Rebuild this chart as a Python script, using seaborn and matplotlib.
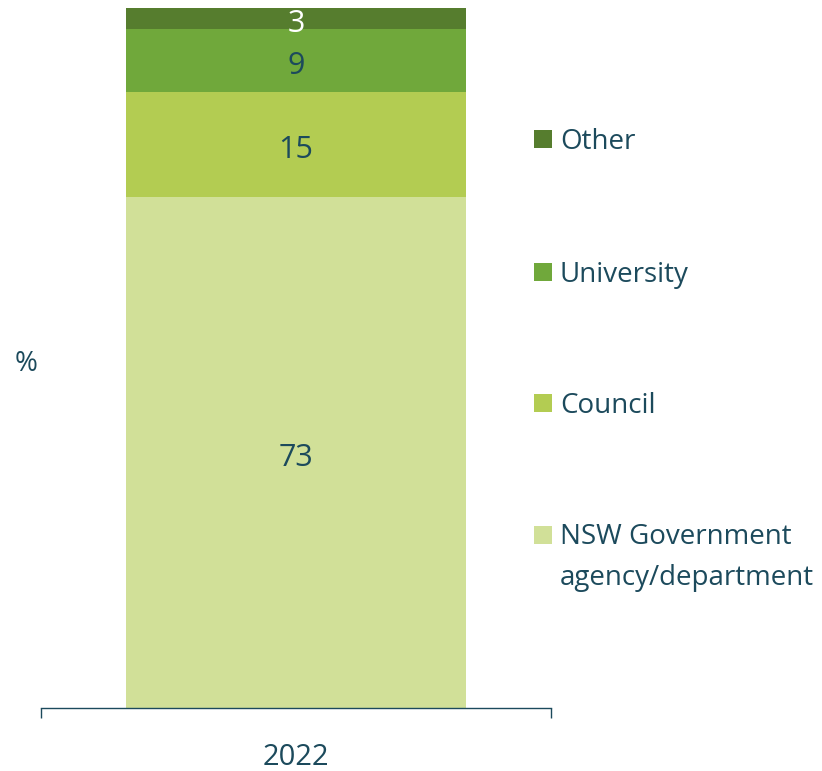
import matplotlib
matplotlib.use("Agg")
import matplotlib.pyplot as plt
from matplotlib.patches import Rectangle
import numpy as np
import pandas as pd
import seaborn as sns

# Respondent organisation type, 2022 (% of respondents)
year = ["2022"]
categories = ["NSW Government\nagency/department", "Council", "University", "Other"]
values = [73, 15, 9, 3]
colors = ["#d1e098", "#b3cc52", "#70a83b", "#567d2e"]
label_colors = ["#1c4a5c", "#1c4a5c", "#1c4a5c", "#ffffff"]

text_color = "#1c4a5c"
W, H = 822, 771

sns.set_theme(style="white")
plt.rcParams["font.family"] = ["Open Sans", "DejaVu Sans"]

fig = plt.figure(figsize=(W / 100, H / 100), dpi=100)
ax = fig.add_axes([41 / W, 63 / H, 510 / W, 700 / H])

# Stacked bar: draw cumulative totals from the tallest down so each segment shows
cum = np.cumsum(values)
bar_width = 0.665
for i in reversed(range(len(values))):
    df = pd.DataFrame({"year": year, "total": [cum[i]]})
    sns.barplot(data=df, x="year", y="total", color=colors[i], width=bar_width,
                saturation=1, ax=ax, edgecolor="none", linewidth=0)

# Segment value labels, centred on each segment
bottoms = np.concatenate([[0], cum[:-1]])
for v, b, lc in zip(values, bottoms, label_colors):
    ax.annotate(f"{v}", xy=(0, b + v / 2), xytext=(0, -9.5),
                textcoords="offset points", ha="center", va="baseline",
                fontsize=22, color=lc, annotation_clip=False)

ax.set_xlim(-0.5, 0.5)
ax.set_ylim(0, 100)

# Axis styling: only a bottom category axis with boundary ticks
for side in ["left", "right", "top"]:
    ax.spines[side].set_visible(False)
ax.spines["bottom"].set_color(text_color)
ax.spines["bottom"].set_linewidth(1.0)
ax.set_yticks([])
ax.set_xticks([0])
ax.set_xticklabels(year)
ax.tick_params(axis="x", which="major", length=0, pad=25, labelsize=21,
               labelcolor=text_color)
ax.set_xticks([-0.5, 0.5], minor=True)
ax.tick_params(axis="x", which="minor", length=7, width=1.0, color=text_color,
               direction="out", bottom=True)
ax.set_xlabel("")
ax.set_ylabel("%", rotation=0, fontsize=20, color=text_color, ha="center",
              va="baseline")
ax.yaxis.set_label_coords(-0.0294, 0.481)

# Legend: square swatches with labels, top entry first; the swatch sits
# beside the first line of a wrapped label
legend_order = list(range(len(categories)))[::-1]
row_centres = [139, 272, 403, 535]
line_step = 40
sw = 18
for row, idx in enumerate(legend_order):
    yc = row_centres[row]
    label = categories[idx]
    extra_lines = label.count("\n")
    fig.add_artist(Rectangle((534 / W, 1 - (yc + sw / 2) / H), sw / W, sw / H,
                             transform=fig.transFigure, facecolor=colors[idx],
                             edgecolor="none"))
    fig.text(560 / W, 1 - (yc + 10 + extra_lines * line_step) / H, label,
             ha="left", va="baseline", fontsize=20, color=text_color,
             linespacing=1.6)

fig.savefig("out.png", dpi=100)
